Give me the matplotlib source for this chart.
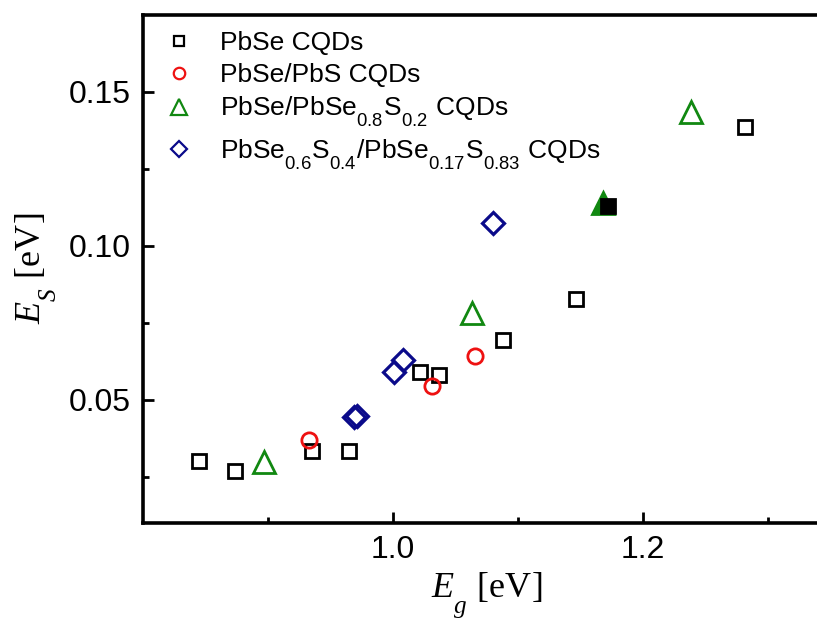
import matplotlib
matplotlib.use("Agg")
import matplotlib.pyplot as plt
from matplotlib.ticker import FixedLocator
import matplotlib._mathtext as _mt

plt.rcParams["font.family"] = ["Liberation Sans", "DejaVu Sans"]
plt.rcParams["mathtext.fontset"] = "custom"
plt.rcParams["mathtext.rm"] = "Liberation Serif"
plt.rcParams["mathtext.it"] = "Liberation Serif:italic"
plt.rcParams["mathtext.sf"] = "Liberation Sans"

# deeper, more spaced subscripts for the chemical formulas
try:
    _mt.FontConstantsBase.sub1 = 0.95
    _mt.FontConstantsBase.script_space = 0.1
except Exception:
    pass

# PbSe CQDs (open squares) and the highlighted (filled) sample
pbse_eg = [0.845, 0.874, 0.935, 0.965, 1.022, 1.037, 1.088, 1.147, 1.282]
pbse_es = [0.0299, 0.0269, 0.0332, 0.0334, 0.0589, 0.0581, 0.0694, 0.0828, 0.1386]
pbse_fill_eg = [1.172]
pbse_fill_es = [0.1130]

# PbSe/PbS core/shell CQDs
pbs_eg = [0.933, 1.031, 1.066]
pbs_es = [0.0369, 0.0545, 0.0643]

# PbSe/PbSe0.8S0.2 CQDs (open) and the highlighted sample
alloy_eg = [0.897, 1.063, 1.239]
alloy_es = [0.0296, 0.0781, 0.1435]
alloy_fill_eg = [1.168]
alloy_fill_es = [0.1140]

# PbSe0.6S0.4/PbSe0.17S0.83 CQDs
graded_eg = [0.969, 0.971, 1.001, 1.008, 1.080]
graded_es = [0.0444, 0.0448, 0.0589, 0.0629, 0.1075]

labels = [
    "PbSe CQDs",
    "PbSe/PbS CQDs",
    r"PbSe/PbSe$_{\mathsf{0.8}}$S$_{\mathsf{0.2}}$ CQDs",
    r"PbSe$_{\mathsf{0.6}}$S$_{\mathsf{0.4}}$/PbSe$_{\mathsf{0.17}}$S$_{\mathsf{0.83}}$ CQDs",
]

BLACK = "#000000"
RED = "#ee1111"
GREEN = "#118811"
NAVY = "#0a0a8a"

fig = plt.figure(figsize=(8.17, 6.21), dpi=100)
ax = fig.add_axes([0.175, 0.1583, 0.841, 0.8175])

lw = 2.0
ax.plot(pbse_eg, pbse_es, ls="none", marker="s", ms=10, mfc="none",
        mec=BLACK, mew=lw, label=labels[0])
ax.plot(pbs_eg, pbs_es, ls="none", marker="o", ms=11, mfc="none",
        mec=RED, mew=lw, label=labels[1])
ax.plot(alloy_eg, alloy_es, ls="none", marker="^", ms=16, mfc="none",
        mec=GREEN, mew=lw, label=labels[2])
ax.plot(graded_eg, graded_es, ls="none", marker="D", ms=11.5, mfc="none",
        mec=NAVY, mew=lw + 0.3, label=labels[3])
ax.plot(alloy_fill_eg, alloy_fill_es, ls="none", marker="^", ms=16,
        mfc=GREEN, mec=GREEN, mew=lw)
ax.plot(pbse_fill_eg, pbse_fill_es, ls="none", marker="s", ms=10,
        mfc=BLACK, mec=BLACK, mew=lw)

ax.set_xlim(0.8, 1.35)
ax.set_ylim(0.01, 0.175)
ax.xaxis.set_major_locator(FixedLocator([1.0, 1.2]))
ax.xaxis.set_minor_locator(FixedLocator([0.9, 1.1, 1.3]))
ax.yaxis.set_major_locator(FixedLocator([0.05, 0.10, 0.15]))
ax.yaxis.set_minor_locator(FixedLocator([0.025, 0.075, 0.125]))
ax.set_xticklabels(["1.0", "1.2"])
ax.set_yticklabels(["0.05", "0.10", "0.15"])

ax.tick_params(which="both", direction="in", top=False, right=False,
               width=2.0, labelsize=23)
ax.tick_params(which="major", length=8, pad=9)
ax.tick_params(which="minor", length=4)
for s in ax.spines.values():
    s.set_linewidth(2.6)

ax.set_xlabel(r"$E_g$ [eV]", fontsize=26, family="Liberation Serif", labelpad=4)
ax.set_ylabel(r"$E_S$ [eV]", fontsize=26, family="Liberation Serif", labelpad=7)

leg = ax.legend(loc="upper left", bbox_to_anchor=(0.0, 1.005), frameon=False,
                fontsize=19, handletextpad=0.9, labelspacing=0.3,
                borderaxespad=0.3, handlelength=1.3)
for h in leg.legend_handles:
    h.set_markersize(h.get_markersize() * 0.75)
    h.set_markeredgewidth(1.6)

fig.savefig("out.png", dpi=100)
